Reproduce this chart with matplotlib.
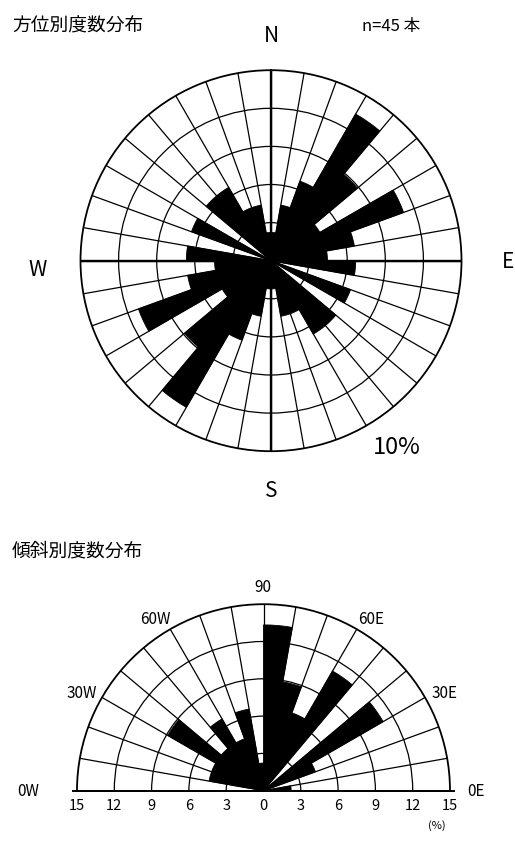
import numpy as np
import matplotlib
matplotlib.use("Agg")
import matplotlib.pyplot as plt

plt.rcParams["font.family"] = ["Noto Sans CJK JP", "DejaVu Sans"]

# strike directions, 10 degree bins from N (axial: each bin repeats at +180)
STRIKE_BIN_START = [0, 10, 20, 30, 40, 50, 60, 70, 80,
                    90, 100, 110, 120, 130, 140, 150, 160, 170]
STRIKE_COUNTS = [1, 2, 3, 6, 4, 2, 5, 3, 2,
                 3, 0, 3, 0, 3, 3, 2, 2, 1]
N_TOTAL = 45

# dip angles, 10 degree bins measured from horizontal
DIP_BIN_START = [0, 10, 20, 30, 40, 50, 60, 70, 80]
DIP_EAST_COUNTS = [1, 0, 2, 5, 0, 5, 3, 4, 6]
DIP_WEST_COUNTS = [0, 2, 2, 4, 2, 3, 2, 3, 1]

RING_STEPS = [3, 6, 9, 12]
R_MAX = 15
SCALE_TICKS = [15, 12, 9, 6, 3]

W, H = 515, 843


def fpos(x, y):
    return x / W, 1 - y / H


def style_polar(ax):
    ax.set_ylim(0, R_MAX)
    ax.set_rticks(RING_STEPS)
    ax.set_yticklabels([])
    ax.grid(True, color="black", linewidth=0.9)
    ax.set_axisbelow(False)
    ax.tick_params(pad=0)
    for sp in ax.spines.values():
        sp.set_linewidth(1.3)
        sp.set_color("black")


fig = plt.figure(figsize=(W / 100, H / 100), dpi=100)

# ---- strike rose ----
ax1 = fig.add_axes([(271 - 190.5) / W, (H - 260.7 - 190.5) / H, 381 / W, 381 / H],
                   projection="polar")
ax1.set_theta_zero_location("N")
ax1.set_theta_direction(-1)

starts = np.array(STRIKE_BIN_START + [a + 180 for a in STRIKE_BIN_START])
pct = np.array(STRIKE_COUNTS * 2) / N_TOTAL * 100
ax1.bar(np.deg2rad(starts + 5), pct, width=np.deg2rad(10),
        color="black", edgecolor="black", linewidth=0.6, zorder=1)
style_polar(ax1)
ax1.set_thetagrids(np.arange(0, 360, 10), labels=[])
for t in (0, 90, 180, 270):
    ax1.plot([np.deg2rad(t)] * 2, [0, R_MAX], color="black", lw=1.7, zorder=3)

fig.text(*fpos(12, 26), "方位別度数分布", fontsize=13.5, ha="left", va="center")
fig.text(*fpos(362, 26), "n=45 本", fontsize=12, ha="left", va="center")
fig.text(*fpos(271, 36), "N", fontsize=15, ha="center", va="center")
fig.text(*fpos(271, 491), "S", fontsize=15, ha="center", va="center")
fig.text(*fpos(38, 270), "W", fontsize=15, ha="center", va="center")
fig.text(*fpos(508, 262), "E", fontsize=15, ha="center", va="center")
fig.text(*fpos(397, 448), "10%", fontsize=17, ha="center", va="center")

# ---- dip half rose ----
# square box; the half disc is fitted to its width and centred vertically
R2 = 186.5
ax2 = fig.add_axes([(263.5 - R2) / W, (H - 790.7 - R2 / 2) / H, 2 * R2 / W, 2 * R2 / H],
                   projection="polar")
ax2.set_thetamin(0)
ax2.set_thetamax(180)
dip = np.array(DIP_BIN_START) + 5
east = np.array(DIP_EAST_COUNTS) / N_TOTAL * 100
west = np.array(DIP_WEST_COUNTS) / N_TOTAL * 100
ax2.bar(np.deg2rad(dip), east, width=np.deg2rad(10),
        color="black", edgecolor="black", linewidth=0.6, zorder=1)
ax2.bar(np.deg2rad(180 - dip), west, width=np.deg2rad(10),
        color="black", edgecolor="black", linewidth=0.6, zorder=1)
style_polar(ax2)
ax2.set_thetagrids(np.arange(0, 181, 10), labels=[])
for t in (0, 180):
    ax2.plot([np.deg2rad(t)] * 2, [0, R_MAX + 0.35], color="black", lw=1.4,
             zorder=3, clip_on=False)

for v in SCALE_TICKS:
    for t in (0, np.pi):
        ax2.annotate(str(v), xy=(t, v), xytext=(0, -11), textcoords="offset points",
                     ha="center", va="center", fontsize=10.5, annotation_clip=False)
ax2.annotate("0", xy=(0, 0), xytext=(0, -11), textcoords="offset points",
             ha="center", va="center", fontsize=10.5, annotation_clip=False)

fig.text(*fpos(12, 551), "傾斜別度数分布", fontsize=13.5, ha="left", va="center")
fig.text(*fpos(263, 588), "90", fontsize=11, ha="center", va="center")
fig.text(*fpos(155, 620), "60W", fontsize=11, ha="center", va="center")
fig.text(*fpos(371, 620), "60E", fontsize=11, ha="center", va="center")
fig.text(*fpos(82, 693), "30W", fontsize=11, ha="center", va="center")
fig.text(*fpos(445, 693), "30E", fontsize=11, ha="center", va="center")
fig.text(*fpos(28, 791), "0W", fontsize=11, ha="center", va="center")
fig.text(*fpos(476, 791), "0E", fontsize=11, ha="center", va="center")
fig.text(*fpos(437, 826), "(%)", fontsize=8, ha="center", va="center")

fig.savefig("out.png", dpi=100)
